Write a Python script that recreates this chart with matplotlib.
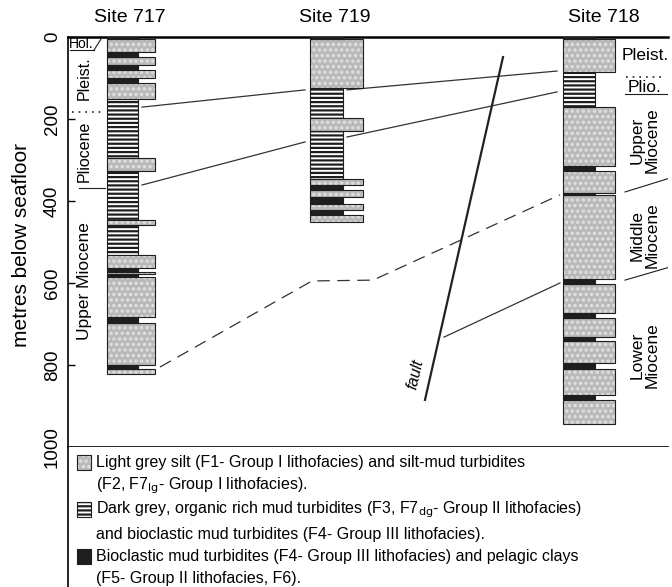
import numpy as np
import matplotlib.pyplot as plt
from matplotlib.patches import Rectangle

plt.rcParams['font.family'] = ['Liberation Sans', 'DejaVu Sans']
plt.rcParams['hatch.linewidth'] = 1.6

# lithology codes: S = light grey silt, M = dark grey mud turbidites,
# B = bioclastic mud turbidites / pelagic clays
site_717_depths = [0, 6, 36, 48, 68, 80, 100, 111, 152, 296, 328, 446, 459, 532,
                   564, 572, 577, 585, 684, 697, 800, 810, 822]
site_717_litho = ['B', 'S', 'B', 'S', 'B', 'S', 'B', 'S', 'M', 'S', 'M', 'S', 'M',
                  'S', 'B', 'S', 'B', 'S', 'B', 'S', 'B', 'S']

site_719_depths = [0, 4, 125, 198, 229, 346, 361, 373, 391, 407, 423, 434, 450]
site_719_litho = ['B', 'S', 'M', 'S', 'M', 'S', 'B', 'S', 'B', 'S', 'B', 'S']

site_718_depths = [0, 4, 85, 170, 314, 328, 380, 386, 591, 602, 674, 686, 731,
                   741, 796, 810, 872, 886, 943]
site_718_litho = ['B', 'S', 'M', 'S', 'B', 'S', 'B', 'S', 'B', 'S', 'B', 'S', 'B',
                  'S', 'B', 'S', 'B', 'S']

site_names = ['Site 717', 'Site 719', 'Site 718']

# correlated horizons (depth in m): 717, 719 left side, 719 right side, 718
horizon_a = [171, 129, 129, 83]
horizon_b = [361, 256, 244, 134]
horizon_c = [805, 595, 593, 385]
# horizon east of the fault and the fault trace itself
horizon_d = [732, 600]
fault_depths = [885, 49]

depth_ticks = [0, 200, 400, 600, 800, 1000]

# horizontal layout (figure pixels)
W, H = 672, 587
col_left = [107, 310, 563]
wide_w = [48, 53, 52]
narrow_w = [31, 33, 32]
horizon_x = [142, 305, 347, 557]
horizon_c_x = [160, 312, 373, 560]
horizon_d_x = [444, 560]
fault_x = [425, 503]

SILT_FACE = '#b9b9b9'
EDGE = '#1e1e1e'


def draw_layer(ax, x, w_wide, w_narrow, top, base, code):
    h = base - top
    if code == 'S':
        ax.add_patch(Rectangle((x, top), w_wide, h, facecolor=SILT_FACE,
                               edgecolor='none', zorder=2))
        ax.add_patch(Rectangle((x, top), w_wide, h, fill=False, hatch='...',
                               edgecolor='#e2e2e2', linewidth=0, zorder=3))
        ax.add_patch(Rectangle((x, top), w_wide, h, fill=False,
                               edgecolor=EDGE, linewidth=0.8, zorder=4))
    elif code == 'M':
        ax.add_patch(Rectangle((x, top), w_narrow, h, facecolor='white',
                               hatch='----', edgecolor=EDGE, linewidth=0.8,
                               zorder=2))
    else:
        ax.add_patch(Rectangle((x, top), w_narrow, h, facecolor=EDGE,
                               edgecolor=EDGE, linewidth=0.8, zorder=4))


fig = plt.figure(figsize=(W / 100, H / 100), dpi=100)
ax = fig.add_axes([68 / W, (H - 447) / H, 600 / W, 410 / H])
ax.set_xlim(68, 668)
ax.set_ylim(1000, 0)
ax.spines['right'].set_visible(False)
ax.spines['top'].set_linewidth(1.8)
ax.spines['left'].set_linewidth(1.2)
ax.spines['bottom'].set_linewidth(1.2)
ax.set_xticks([])
ax.set_yticks(depth_ticks)
ax.set_yticklabels([str(t) for t in depth_ticks], rotation=90, va='center',
                   fontsize=13.5)
ax.tick_params(axis='y', direction='in', length=5, width=1, pad=5)

sites = [(site_717_depths, site_717_litho), (site_719_depths, site_719_litho),
         (site_718_depths, site_718_litho)]
title_x = [130, 335, 604]
for i, (depths, litho) in enumerate(sites):
    for top, base, code in zip(depths[:-1], depths[1:], litho):
        draw_layer(ax, col_left[i], wide_w[i], narrow_w[i], top, base, code)
    fig.text(title_x[i] / W, 1 - 18 / H, site_names[i], fontsize=14,
             ha='center', va='center')

line_kw = dict(color='#333333', linewidth=0.9, zorder=1)
for hz in [horizon_a, horizon_b]:
    ax.plot(horizon_x[:2], hz[:2], **line_kw)
    ax.plot(horizon_x[2:], hz[2:], **line_kw)
ax.plot(horizon_c_x, horizon_c, dashes=(10, 6), **line_kw)
ax.plot(horizon_d_x, horizon_d, **line_kw)
ax.plot(fault_x, fault_depths, color='#222222', linewidth=1.6, zorder=1)
ax.text(415, 822, 'fault', rotation=77, fontsize=11.5, style='italic',
        ha='center', va='center')

# stratigraphy, Site 717
strat_kw = dict(fontsize=12.5, ha='center', va='center', rotation=90)
ax.text(81, 18, 'Hol.', fontsize=10, ha='center', va='center')
ax.plot([70, 94], [32, 32], color=EDGE, linewidth=0.8)
ax.plot([94, 101], [32, 5], color=EDGE, linewidth=0.8)
ax.text(84, 100, 'Pleist.', fontsize=11.5, ha='center', va='center',
        rotation=90)
ax.plot([72, 105], [182, 182], color=EDGE, linewidth=1.2, linestyle=(0, (1, 3)))
ax.text(84, 278, 'Pliocene', fontsize=11.5, ha='center', va='center',
        rotation=90)
ax.plot([79, 105], [368, 368], color=EDGE, linewidth=0.8)
ax.text(84, 595, 'Upper Miocene', **strat_kw)

# stratigraphy, Site 718
ax.text(645, 44, 'Pleist.', fontsize=12.5, ha='center', va='center')
ax.plot([626, 666], [98, 98], color=EDGE, linewidth=1.2, linestyle=(0, (1, 3)))
ax.text(645, 122, 'Plio.', fontsize=12.5, ha='center', va='center')
ax.plot([625, 667], [139, 139], color=EDGE, linewidth=0.8)
ax.text(645, 251, 'Upper\nMiocene', linespacing=1.0, **strat_kw)
ax.plot([625, 670], [378, 344], color=EDGE, linewidth=0.8)
ax.text(645, 483, 'Middle\nMiocene', linespacing=1.0, **strat_kw)
ax.plot([625, 670], [593, 561], color=EDGE, linewidth=0.8)
ax.text(645, 776, 'Lower\nMiocene', linespacing=1.0, **strat_kw)

fig.text(22 / W, 1 - 245 / H, 'metres below seafloor', rotation=90,
         fontsize=15, ha='center', va='center')

# legend panel
lg = fig.add_axes([68 / W, 0, (W - 68) / W, 140 / H])
lg.set_xlim(68, W)
lg.set_ylim(587, 447)
lg.set_xticks([])
lg.set_yticks([])
for s in ['top', 'right', 'bottom']:
    lg.spines[s].set_visible(False)
lg.spines['left'].set_linewidth(1.2)

legend_codes = ['S', 'M', 'B']
legend_lines = [
    ['Light grey silt (F1- Group I lithofacies) and silt-mud turbidites',
     '(F2, F7$_{\\mathrm{lg}}$- Group I lithofacies).'],
    ['Dark grey, organic rich mud turbidites (F3, F7$_{\\mathrm{dg}}$- Group II lithofacies)',
     'and bioclastic mud turbidites (F4- Group III lithofacies).'],
    ['Bioclastic mud turbidites (F4- Group III lithofacies) and pelagic clays',
     '(F5- Group II lithofacies, F6).'],
]
swatch_top = [455, 502, 549]
text_y = [(462, 486), (510, 534), (556, 578)]
for code, top, lines, ys in zip(legend_codes, swatch_top, legend_lines, text_y):
    draw_layer(lg, 77, 14, 14, top, top + 15, code)
    for txt, y in zip(lines, ys):
        lg.text(96, y, txt, fontsize=11.5, ha='left', va='center')

fig.savefig('out.png', dpi=100)
